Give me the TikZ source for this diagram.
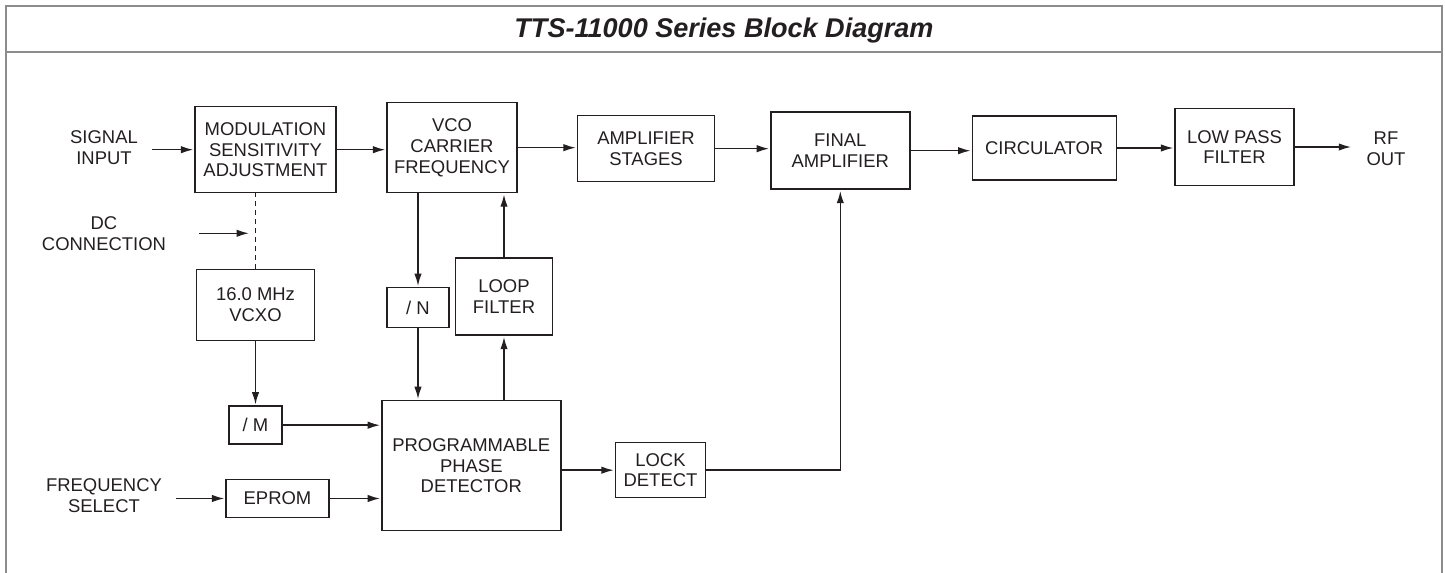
\documentclass[tikz,border=0pt]{standalone}
\usepackage{fontspec}
\setmainfont{Liberation Sans}
\usetikzlibrary{positioning, arrows.meta, calc}

\definecolor{ink}{HTML}{231F20}
\definecolor{framegray}{HTML}{8C8C8C}

\begin{document}
\begin{tikzpicture}[x=0.02cm, y=-0.02cm,
    block/.style={draw=ink, line width=0.8pt, align=center, text=ink, inner sep=1pt,
                  font=\fontsize{10.5}{11.8}\selectfont},
    boxsize/.style 2 args={minimum width=#1*0.02cm, minimum height=#2*0.02cm},
    lbl/.style={align=center, text=ink, inner xsep=8pt,
                font=\fontsize{10.5}{11.8}\selectfont},
    arrow/.style={-{Latex[length=7pt, width=4.2pt]}, draw=ink, line width=0.8pt,
                  shorten >=0.6pt},
    wire/.style={draw=ink, line width=0.8pt},
    link/.style={draw=ink, line width=0.8pt, dash pattern=on 2.8pt off 2.3pt},
    frame/.style={draw=framegray, line width=1.1pt},
]
\useasboundingbox (0,0) rectangle (1445,573);

% --- Frame and title ---
\draw[frame] (6,573) -- (6,6) -- (1442,6) -- (1442,573);
\draw[frame] (6,52) -- (1442,52);
\node[anchor=base, text=ink, font=\fontsize{15.4}{18}\selectfont\bfseries\itshape]
    (title) at (724,38) {TTS-11000 Series Block Diagram};

% --- Transmit chain ---
\node[block, boxsize={141}{86}] (mod) at (265.5,149.7)
    {MODULATION\\SENSITIVITY\\ADJUSTMENT};
\node[block, boxsize={130}{90}] (vco) at (452,147.7) {VCO\\CARRIER\\FREQUENCY};
\node[block, boxsize={137}{66}] (amp) at (646,148.7) {AMPLIFIER\\STAGES};
\node[block, boxsize={139}{77}] (final) at (840.3,150.7) {FINAL\\AMPLIFIER};
\node[block, boxsize={144}{64}] (circ) at (1044.2,148) {CIRCULATOR};
\node[block, boxsize={119}{77}] (lpf) at (1234.5,147) {LOW PASS\\FILTER};

% --- Synthesizer ---
\node[block, boxsize={118}{71}] (vcxo) at (255.5,304.8) {16.0 MHz\\VCXO};
\node[block, boxsize={62}{40}] (divn) at (418,307.7) {/ N};
\node[block, boxsize={97}{77}] (loop) at (504,296.7) {LOOP\\FILTER};
\node[block, boxsize={53}{38}] (divm) at (255.5,425.2) {/ M};
\node[block, boxsize={103}{38}] (eprom) at (277.5,498.5) {EPROM};
\node[block, boxsize={179}{130}] (prog) at (471.3,465.8)
    {PROGRAMMABLE\\PHASE\\DETECTOR};
\node[block, boxsize={90}{55}] (lock) at (660.5,470.2) {LOCK\\DETECT};

% --- Inputs and output ---
\node[lbl] (sigin) at (104,148) {SIGNAL\\INPUT};
\node[lbl] (dccon) at (104,233.3) {DC\\CONNECTION};
\node[lbl] (freqsel) at (104,495.5) {FREQUENCY\\SELECT};
\node[lbl] (rfout) at (1386,148.7) {RF\\OUT};
\coordinate (dcin) at (199.3,233.3);
\coordinate (dcend) at (250,233.3);

% --- Main flow ---
\draw[arrow] (sigin.east |- mod.west) -- (mod.west);
\draw[arrow] (mod.east) -- (mod.east -| vco.west);
\draw[arrow] (vco.east) -- (vco.east -| amp.west);
\draw[arrow] (amp.east) -- (amp.east -| final.west);
\draw[arrow] (final.east) -- (final.east -| circ.west);
\draw[arrow] (circ.east) -- (circ.east -| lpf.west);
\draw[arrow] (lpf.east) -- (lpf.east -| rfout.west);

% --- Loop ---
\draw[arrow] (vco.south -| divn) -- (divn.north);
\draw[arrow] (divn.south) -- (divn.south |- prog.north);
\draw[arrow] (loop.south |- prog.north) -- (loop.south);
\draw[arrow] (loop.north) -- (loop.north |- vco.south);
\draw[arrow] (vcxo.south) -- (divm.north);
\draw[arrow] (divm.east) -- (divm.east -| prog.west);
\draw[arrow] (freqsel.east |- eprom.west) -- (eprom.west);
\draw[arrow] (eprom.east) -- (eprom.east -| prog.west);
\draw[arrow] (prog.east |- lock.west) -- (lock.west);
\draw[arrow] (lock.east) -| (final.south);

% --- DC connection ---
\draw[link] (vcxo.north) -- (vcxo.north |- mod.south);
\draw[arrow] (dcin) -- (dcend);
\end{tikzpicture}
\end{document}
